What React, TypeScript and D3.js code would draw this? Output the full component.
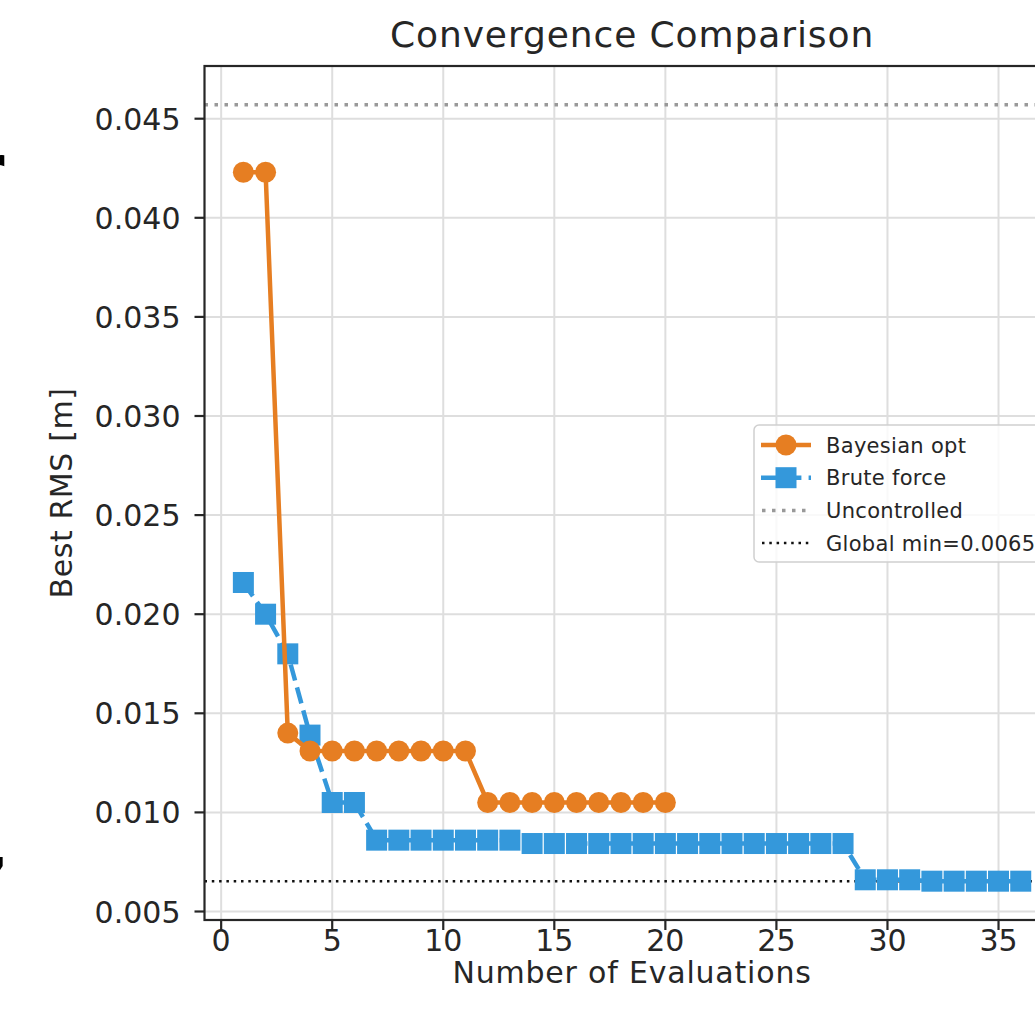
import { useEffect, useRef } from 'react'
import * as d3 from 'd3'

// values
const bayesY = [0.0423, 0.0423, 0.0140, 0.0131, 0.0131, 0.0131, 0.0131, 0.0131, 0.0131, 0.0131, 0.0131,
  0.0105, 0.0105, 0.0105, 0.0105, 0.0105, 0.0105, 0.0105, 0.0105, 0.0105]
const bruteY = [0.0216, 0.0200, 0.0180, 0.0139, 0.0105, 0.0105,
  0.0086, 0.0086, 0.0086, 0.0086, 0.0086, 0.0086, 0.0086,
  0.00843, 0.00843, 0.00843, 0.00843, 0.00843, 0.00843, 0.00843, 0.00843, 0.00843, 0.00843, 0.00843, 0.00843, 0.00843, 0.00843, 0.00843,
  0.0066, 0.0066, 0.0066, 0.00653, 0.00653, 0.00653, 0.00653, 0.00653]
const uncontrolled = 0.0457
const globalMin = 0.00653
const xTicks = [0, 5, 10, 15, 20, 25, 30, 35]
const yTicks = [0.005, 0.010, 0.015, 0.020, 0.025, 0.030, 0.035, 0.040, 0.045]
const legendItems = ['Bayesian opt', 'Brute force', 'Uncontrolled', 'Global min=0.00653']

const ORANGE = '#e67e22'
const BLUE = '#3498db'
const FONT = 'DejaVu Sans, sans-serif'

export default function App() {
  const svgRef = useRef<SVGSVGElement>(null)

  useEffect(() => {
    if (!svgRef.current) return
    const svg = d3.select(svgRef.current)
    svg.selectAll('*').remove()

    const W = 1035, H = 1026
    const m = { top: 66, left: 204.5, bottom: 920, right: 1059.6 }

    // matplotlib-style 5% autoscale margins
    const n = Math.max(bayesY.length, bruteY.length)
    const xPad = (n - 1) * 0.05
    const allY = [...bayesY, ...bruteY, uncontrolled, globalMin]
    const lo = d3.min(allY)!, hi = d3.max(allY)!
    const yPad = (hi - lo) * 0.05

    const x = d3.scaleLinear().domain([1 - xPad, n + xPad]).range([m.left, m.right])
    const y = d3.scaleLinear().domain([lo - yPad, hi + yPad]).range([m.bottom, m.top])

    svg.attr('width', W).attr('height', H)
    svg.append('rect').attr('width', W).attr('height', H).attr('fill', '#fff')

    // bits of neighbouring figure text cut by the left edge
    svg.append('text').attr('x', -30).attr('y', 194).attr('font-family', FONT).attr('font-weight', 'bold')
      .attr('font-size', 70).attr('fill', '#000').text('r')
    svg.append('text').attr('x', -14).attr('y', 868).attr('font-family', FONT).attr('font-weight', 'bold')
      .attr('font-size', 60).attr('fill', '#000').text(',')

    // grid
    const grid = svg.append('g').attr('stroke', '#dedede').attr('stroke-width', 2)
    xTicks.forEach(t => grid.append('line').attr('x1', x(t)).attr('x2', x(t)).attr('y1', m.top).attr('y2', m.bottom))
    yTicks.forEach(t => grid.append('line').attr('y1', y(t)).attr('y2', y(t)).attr('x1', m.left).attr('x2', m.right))

    // reference lines
    svg.append('line').attr('x1', m.left).attr('x2', m.right)
      .attr('y1', y(uncontrolled)).attr('y2', y(uncontrolled))
      .attr('stroke', '#999').attr('stroke-width', 3.5).attr('stroke-dasharray', '3.5 6.5')
    svg.append('line').attr('x1', m.left).attr('x2', m.right)
      .attr('y1', y(globalMin)).attr('y2', y(globalMin))
      .attr('stroke', '#111').attr('stroke-width', 2.5).attr('stroke-dasharray', '2.5 4.8')

    const line = d3.line<number>().x((_, i) => x(i + 1)).y(d => y(d))

    // Brute force (under the orange series in the reference)
    svg.append('path').attr('d', line(bruteY)).attr('fill', 'none')
      .attr('stroke', BLUE).attr('stroke-width', 4.5).attr('stroke-dasharray', '16.6 7.2')
    bruteY.forEach((d, i) => {
      svg.append('rect').attr('x', x(i + 1) - 10.5).attr('y', y(d) - 10.5)
        .attr('width', 21).attr('height', 21).attr('fill', BLUE)
    })

    // Bayesian opt
    svg.append('path').attr('d', line(bayesY)).attr('fill', 'none')
      .attr('stroke', ORANGE).attr('stroke-width', 4.5).attr('stroke-linejoin', 'round')
    bayesY.forEach((d, i) => {
      svg.append('circle').attr('cx', x(i + 1)).attr('cy', y(d)).attr('r', 10.5).attr('fill', ORANGE)
    })

    // spines
    svg.append('rect').attr('x', m.left).attr('y', m.top)
      .attr('width', m.right - m.left).attr('height', m.bottom - m.top)
      .attr('fill', 'none').attr('stroke', '#262626').attr('stroke-width', 2.2)

    // ticks
    const ax = svg.append('g').attr('font-family', FONT).attr('font-size', 30).attr('fill', '#262626')
    xTicks.forEach(t => {
      ax.append('line').attr('x1', x(t)).attr('x2', x(t)).attr('y1', m.bottom).attr('y2', m.bottom + 10)
        .attr('stroke', '#262626').attr('stroke-width', 2.2)
      ax.append('text').attr('x', x(t)).attr('y', m.bottom + 31).attr('text-anchor', 'middle').text(t)
    })
    yTicks.forEach(t => {
      ax.append('line').attr('x1', m.left - 10).attr('x2', m.left).attr('y1', y(t)).attr('y2', y(t))
        .attr('stroke', '#262626').attr('stroke-width', 2.2)
      ax.append('text').attr('x', m.left - 24).attr('y', y(t) + 11).attr('text-anchor', 'end')
        .text(d3.format('.3f')(t))
    })

    // labels
    const cx = (m.left + m.right) / 2
    ax.append('text').attr('x', cx).attr('y', 47).attr('text-anchor', 'middle')
      .attr('font-size', 36).attr('letter-spacing', 0.9).text('Convergence Comparison')
    ax.append('text').attr('x', cx).attr('y', 983).attr('text-anchor', 'middle')
      .attr('letter-spacing', 0.8).text('Number of Evaluations')
    ax.append('text').attr('transform', `translate(72,${(m.top + m.bottom) / 2}) rotate(-90)`)
      .attr('text-anchor', 'middle').attr('letter-spacing', 0.6).text('Best RMS [m]')

    // legend
    const lg = svg.append('g').attr('transform', 'translate(754,425)')
    lg.append('rect').attr('width', 296).attr('height', 137).attr('rx', 5)
      .attr('fill', '#fff').attr('fill-opacity', 0.8).attr('stroke', '#d0d0d0').attr('stroke-width', 1.5)
    legendItems.forEach((label, i) => {
      const ly = 20 + i * 32.7
      const row = lg.append('g').attr('transform', `translate(0,${ly})`)
      if (i === 0) {
        row.append('line').attr('x1', 7).attr('x2', 57).attr('stroke', ORANGE).attr('stroke-width', 4.5)
        row.append('circle').attr('cx', 32).attr('r', 10.5).attr('fill', ORANGE)
      } else if (i === 1) {
        row.append('line').attr('x1', 7).attr('x2', 57).attr('stroke', BLUE).attr('stroke-width', 4.5)
          .attr('stroke-dasharray', '16.6 7.2')
        row.append('rect').attr('x', 21.5).attr('y', -10.5).attr('width', 21).attr('height', 21).attr('fill', BLUE)
      } else if (i === 2) {
        row.append('line').attr('x1', 8).attr('x2', 57).attr('stroke', '#999').attr('stroke-width', 3.5)
          .attr('stroke-dasharray', '3.5 6.5')
      } else {
        row.append('line').attr('x1', 8).attr('x2', 57).attr('stroke', '#111').attr('stroke-width', 2.5)
          .attr('stroke-dasharray', '2.5 4.8')
      }
      row.append('text').attr('x', 72).attr('y', 7.5).attr('font-family', FONT).attr('font-size', 21)
        .attr('letter-spacing', 0.3).attr('fill', '#262626').text(label)
    })
  }, [])

  return <svg ref={svgRef} style={{ position: 'absolute', left: 0, top: 0 }} />
}
